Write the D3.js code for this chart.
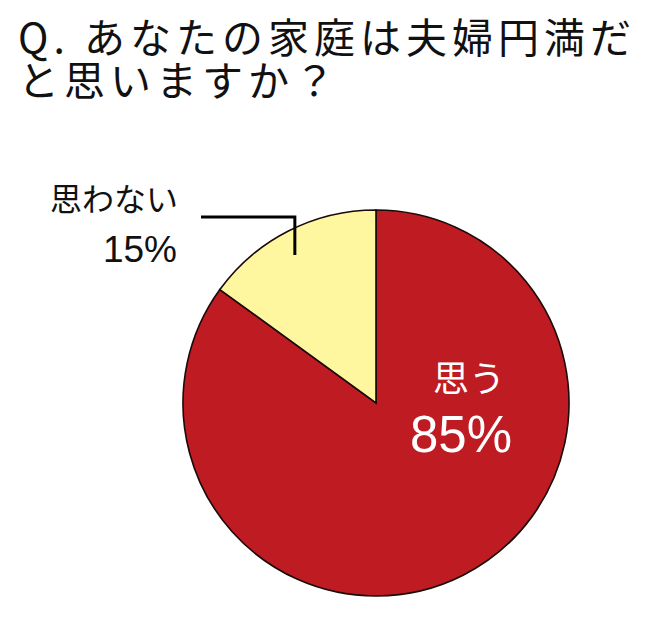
<!DOCTYPE html>
<html>
<head>
<meta charset="utf-8">
<script src="https://cdn.jsdelivr.net/npm/d3@7"></script>
<style>
  body { margin: 0; background: #fff; }
  svg text { font-family: "Noto Sans CJK JP", "Noto Sans", sans-serif; }
  svg text.pct { font-family: "Liberation Sans", Arial, sans-serif; }
</style>
</head>
<body>
<svg id="chart" width="663" height="620"></svg>
<script>
var titleLines = ["Q. あなたの家庭は夫婦円満だ", "と思いますか？"];
var categories = ["思う", "思わない"];
var values = [85, 15];
var colors = ["#be1b22", "#fff7a0"];

var svg = d3.select("#chart");
var cx = 376, cy = 403, radius = 193;

// title, two lines
svg.selectAll("text.title")
    .data(titleLines)
    .enter().append("text")
    .attr("class", "title")
    .attr("x", 18)
    .attr("y", function(d, i) { return 53 + i * 43; })
    .style("font-size", "41px")
    .style("letter-spacing", "5px")
    .attr("fill", "#111")
    .text(function(d) { return d; });

var pie = d3.pie().sort(null).value(function(d) { return d; });
var arcs = pie(values);
var arc = d3.arc().innerRadius(0).outerRadius(radius);

var g = svg.append("g").attr("transform", "translate(" + cx + "," + cy + ")");

g.selectAll("path")
    .data(arcs)
    .enter().append("path")
    .attr("d", arc)
    .attr("fill", function(d, i) { return colors[i]; })
    .attr("stroke", "#1a0a0a")
    .attr("stroke-width", 1.6);

// label inside the big slice
g.append("text")
    .attr("x", 93).attr("y", -11)
    .attr("text-anchor", "middle")
    .attr("fill", "#fff")
    .style("font-size", "36px")
    .text(categories[0]);
g.append("text")
    .attr("class", "pct")
    .attr("x", 85).attr("y", 49)
    .attr("text-anchor", "middle")
    .attr("fill", "#fff")
    .style("font-size", "51px")
    .text(values[0] + "%");

// leader line for the small slice, from inside the slice up and to the left
var small = arcs[1];
var mid = (small.startAngle + small.endAngle) / 2 - 0.03;
var inner = d3.arc().innerRadius(radius * 0.875).outerRadius(radius * 0.875);
var p = inner.centroid({startAngle: mid, endAngle: mid});
var elbowY = -186, lineEndX = -175;
g.append("path")
    .attr("d", d3.line()([[p[0], p[1]], [p[0], elbowY], [lineEndX, elbowY]]))
    .attr("fill", "none")
    .attr("stroke", "#000")
    .attr("stroke-width", 3);

g.append("text")
    .attr("x", -198).attr("y", -192)
    .attr("text-anchor", "end")
    .attr("fill", "#111")
    .style("font-size", "32px")
    .text(categories[1]);
g.append("text")
    .attr("class", "pct")
    .attr("x", -199).attr("y", -141)
    .attr("text-anchor", "end")
    .attr("fill", "#111")
    .style("font-size", "37px")
    .text(values[1] + "%");
</script>
</body>
</html>
